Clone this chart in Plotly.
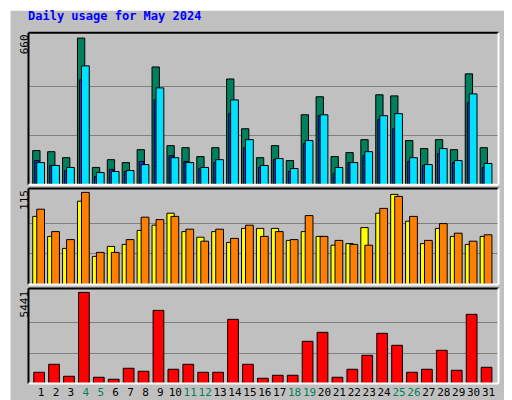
import plotly.graph_objects as go

days = list(range(1, 32))
weekend = [4, 5, 11, 12, 18, 19, 25, 26]

hits = [154, 149, 122, 660, 78, 113, 100, 158, 530, 176, 167, 127, 167, 476, 252, 122,
        176, 109, 315, 396, 127, 145, 203, 405, 400, 199, 163, 203, 158, 499, 167]
files = [100, 87, 78, 535, 55, 60, 64, 91, 436, 122, 100, 78, 113, 382, 203, 87,
         118, 73, 199, 315, 78, 100, 149, 311, 320, 122, 91, 163, 109, 409, 96]
pages = [109, 87, 64, 472, 37, 69, 60, 105, 382, 131, 105, 73, 100, 320, 167, 78,
         113, 60, 185, 311, 51, 100, 131, 293, 252, 105, 87, 140, 100, 369, 78]
visits = [85, 60, 45, 104, 35, 47.5, 50, 67.5, 74, 89, 66, 59, 66, 52.5, 70, 70,
          70, 55, 66, 60, 49, 51, 71, 89, 112.5, 79, 51, 70, 60, 50, 60]
sites = [94, 66, 56, 115, 40, 40, 56, 84, 81, 85, 69, 54, 69, 57.5, 74, 60,
         66, 56, 86, 60, 55, 50, 49, 95, 110, 85, 55, 76, 64, 54, 62]
kbytes = [675, 1152, 437, 5441, 377, 258, 914, 735, 4369, 854, 1152, 675, 675, 3833, 1152, 318,
          497, 497, 2522, 3058, 377, 854, 1688, 2999, 2284, 675, 854, 1986, 794, 4131, 973]

BG = "#C0C0C0"
mono = "DejaVu Sans Mono"
line = dict(color="black", width=1)

fig = go.Figure()
fig.add_bar(x=days, y=hits, offset=-0.56, width=0.49, marker=dict(color="#00805C", line=line),
            xaxis="x", yaxis="y")
fig.add_bar(x=days, y=pages, offset=-0.42, width=0.3, marker=dict(color="#0040FF", line=line),
            xaxis="x", yaxis="y")
fig.add_bar(x=days, y=files, offset=-0.29, width=0.52, marker=dict(color="#00E0FF", line=line),
            xaxis="x", yaxis="y")
fig.add_bar(x=days, y=visits, offset=-0.56, width=0.49, marker=dict(color="#FFFF00", line=line),
            xaxis="x2", yaxis="y2")
fig.add_bar(x=days, y=sites, offset=-0.29, width=0.52, marker=dict(color="#FF8000", line=line),
            xaxis="x2", yaxis="y2")
fig.add_bar(x=days, y=kbytes, offset=-0.49, width=0.72, marker=dict(color="#FF0000", line=line),
            xaxis="x3", yaxis="y3")

ticktext = [f'<span style="color:#00805C">{d}</span>' if d in weekend else str(d) for d in days]
xr = [0.155, 31.67]
xdom = [0.040, 0.958]
xcommon = dict(range=xr, domain=xdom, showgrid=False, zeroline=False, fixedrange=True)
fig.update_layout(
    width=512, height=400, margin=dict(l=0, r=0, t=0, b=0),
    paper_bgcolor=BG, plot_bgcolor=BG, showlegend=False, barmode="overlay",
    font=dict(family=mono, size=11, color="black"),
    xaxis=dict(**xcommon, anchor="y", showticklabels=False),
    xaxis2=dict(**xcommon, anchor="y2", showticklabels=False),
    xaxis3=dict(**xcommon, anchor="y3", tickvals=days, ticktext=ticktext, ticks="",
                tickangle=0, tickfont=dict(size=11, family=mono)),
    yaxis=dict(domain=[0.558, 0.938], range=[0, 660 * 1.036], tickvals=[220, 440],
               showticklabels=False, gridcolor="#808080", zeroline=False),
    yaxis2=dict(domain=[0.309, 0.549], range=[0, 120], tickvals=[38.3, 76.7],
                showticklabels=False, gridcolor="#808080", zeroline=False),
    yaxis3=dict(domain=[0.061, 0.299], range=[0, 5679], tickvals=[1814, 3627],
                showticklabels=False, gridcolor="#808080", zeroline=False),
)

# panel bevels and outer frame
shapes = []
for y0, y1 in [(0.558, 0.938), (0.309, 0.549), (0.061, 0.299)]:
    shapes.append(dict(type="line", xref="paper", yref="paper", x0=xdom[0], x1=xdom[0], y0=y0, y1=y1, line=dict(color="black", width=2)))
    shapes.append(dict(type="line", xref="paper", yref="paper", x0=xdom[0], x1=xdom[1], y0=y1, y1=y1, line=dict(color="black", width=2)))
    shapes.append(dict(type="line", xref="paper", yref="paper", x0=xdom[1], x1=xdom[1], y0=y0, y1=y1, line=dict(color="white", width=2)))
    shapes.append(dict(type="line", xref="paper", yref="paper", x0=xdom[0], x1=xdom[1], y0=y0, y1=y0, line=dict(color="white", width=2)))
shapes += [
    dict(type="line", xref="paper", yref="paper", x0=0.002, x1=0.002, y0=0, y1=1, line=dict(color="white", width=3)),
    dict(type="line", xref="paper", yref="paper", x0=0, x1=1, y0=0.997, y1=0.997, line=dict(color="white", width=3)),
    dict(type="line", xref="paper", yref="paper", x0=0.996, x1=0.996, y0=0, y1=1, line=dict(color="#808080", width=4)),
    dict(type="line", xref="paper", yref="paper", x0=0, x1=1, y0=0.004, y1=0.004, line=dict(color="#808080", width=4)),
]
fig.update_layout(shapes=shapes)

ann = [
    dict(text="<b>Daily usage for May 2024</b>", x=18 / 512, y=1 - 8 / 400, xanchor="left", yanchor="middle",
         font=dict(color="#0000FF", size=12, family=mono)),
    dict(text="660", x=8 / 512, y=0.938, textangle=-90, xanchor="left", yanchor="top"),
    dict(text="115", x=8 / 512, y=0.549, textangle=-90, xanchor="left", yanchor="top"),
    dict(text="5441", x=8 / 512, y=0.299, textangle=-90, xanchor="left", yanchor="top"),
    dict(text='<span style="color:#00E0FF">Pages</span> / <span style="color:#0040FF">Files</span> / '
              '<span style="color:#00805C">Hits</span>',
         x=493 / 512, y=0.938, textangle=-90, xanchor="left", yanchor="top"),
    dict(text='<span style="color:#FF8000">Sites</span> / <span style="color:#FFFF00">Visits</span>',
         x=493 / 512, y=0.549, textangle=-90, xanchor="left", yanchor="top"),
    dict(text='<span style="color:#FF0000">KBytes</span>',
         x=493 / 512, y=0.121, textangle=-90, xanchor="left", yanchor="middle"),
]
for a in ann:
    a.update(xref="paper", yref="paper", showarrow=False)
fig.update_layout(annotations=ann)

fig.write_html("out.html")
